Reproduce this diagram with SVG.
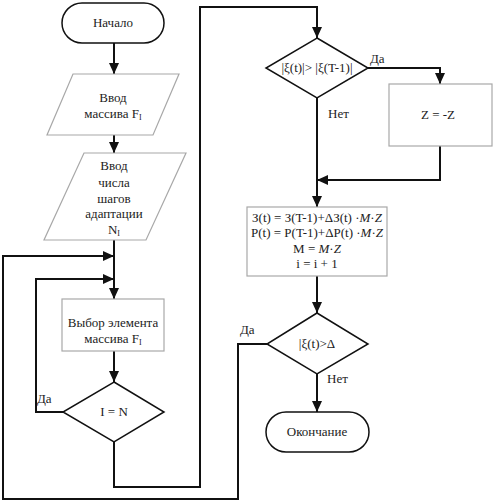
<svg xmlns="http://www.w3.org/2000/svg" width="497" height="503" viewBox="0 0 497 503" font-family="'Liberation Serif', 'DejaVu Serif', serif">
<style>
.term,.dec{fill:#fff;stroke:#111;stroke-width:1.5}
.proc{fill:#fff;stroke:#a8a8a8;stroke-width:1.2}
text{font-family:'Liberation Serif','DejaVu Serif',serif;font-size:13px;fill:#222;text-anchor:middle}
.lbl{text-anchor:start}
.sub{font-size:8px}
.it{font-style:italic}
#connectors path{fill:none;stroke:#111;stroke-width:2}
</style>
<defs>
<marker id="ah" markerUnits="userSpaceOnUse" markerWidth="12" markerHeight="12" viewBox="0 0 12 12" refX="11" refY="6" orient="auto">
<path d="M0,1 L11,6 L0,11 Z" fill="#111"/>
</marker>
</defs>
<rect width="497" height="503" fill="#fff"/>
<g id="connectors">
<path d="M114,43 V74" marker-end="url(#ah)"/>
<path d="M114,135 V153" marker-end="url(#ah)"/>
<path d="M114,240 V299" marker-end="url(#ah)"/>
<path d="M267,344 H238 V499 H3 V256 H114" marker-end="url(#ah)"/>
<path d="M63,412 H36 V279 H114" marker-end="url(#ah)"/>
<path d="M114,351 V382" marker-end="url(#ah)"/>
<path d="M114,442 V487 H200 V7 H317 V38" marker-end="url(#ah)"/>
<path d="M368,68 H440 V84" marker-end="url(#ah)"/>
<path d="M440,146 V180 H317" marker-end="url(#ah)"/>
<path d="M317,98 V207" marker-end="url(#ah)"/>
<path d="M317,276 V313" marker-end="url(#ah)"/>
<path d="M317,374 V412" marker-end="url(#ah)"/>
</g>
<g id="start">
<rect class="term" x="62" y="3" width="102" height="40" rx="20"/>
<text x="113" y="27">Начало</text>
</g>
<g id="input1">
<polygon class="proc" points="73,74 179,74 153,135 47,135"/>
<text x="113" y="102">Ввод</text>
<text x="113" y="118">массива F<tspan class="sub" dy="2">I</tspan></text>
</g>
<g id="input2">
<polygon class="proc" points="84,153 186,153 146,240 44,240"/>
<text x="114" y="170">Ввод</text>
<text x="114" y="187">числа</text>
<text x="114" y="203">шагов</text>
<text x="114" y="218">адаптации</text>
<text x="114" y="234">N<tspan class="sub" dy="2">I</tspan></text>
</g>
<g id="select">
<rect class="proc" x="62" y="299" width="102" height="52"/>
<text x="113" y="327">Выбор элемента</text>
<text x="113" y="343">массива F<tspan class="sub" dy="2">I</tspan></text>
</g>
<g id="check-in">
<polygon class="dec" points="114,382 164,412 114,442 63,412"/>
<text x="114" y="416">I = N</text>
</g>
<g id="check-xi">
<polygon class="dec" points="317,38 368,68 317,98 266,68"/>
<text x="317" y="72">|ξ(t)|&gt; |ξ(T-1)|</text>
</g>
<g id="negate">
<rect class="proc" x="389" y="84" width="103" height="62"/>
<text x="438" y="119">Z = -Z</text>
</g>
<g id="update">
<rect class="proc" x="247" y="207" width="140" height="69"/>
<text x="317" y="222">З(t) = З(T-1)+ΔЗ(t) ·<tspan class="it">M</tspan>·<tspan class="it">Z</tspan></text>
<text x="317" y="237">P(t) = P(T-1)+ΔP(t) ·<tspan class="it">M</tspan>·<tspan class="it">Z</tspan></text>
<text x="317" y="253">M = <tspan class="it">M</tspan>·<tspan class="it">Z</tspan></text>
<text x="317" y="268">i = i + 1</text>
</g>
<g id="check-delta">
<polygon class="dec" points="317,313 368,344 317,374 267,344"/>
<text x="317" y="348">|ξ(t)&gt;Δ</text>
</g>
<g id="end">
<rect class="term" x="266" y="412" width="103" height="40" rx="20"/>
<text x="317" y="436">Окончание</text>
</g>
<g id="labels">
<text class="lbl" x="37" y="403">Да</text>
<text class="lbl" x="370" y="63">Да</text>
<text class="lbl" x="328" y="118">Нет</text>
<text class="lbl" x="240" y="334">Да</text>
<text class="lbl" x="327" y="383">Нет</text>
</g>
</svg>
